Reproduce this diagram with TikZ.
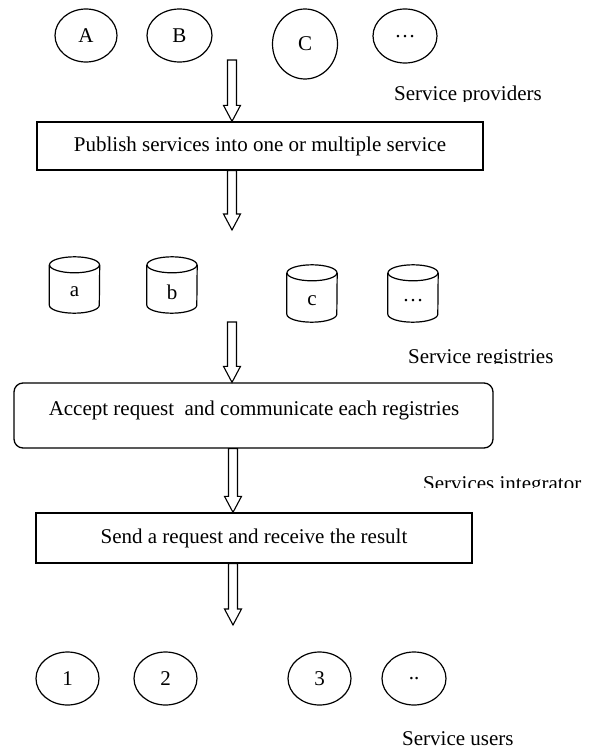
\documentclass[tikz,border=0pt]{standalone}
\usepackage{fontspec}
\setmainfont{Liberation Serif}
\usetikzlibrary{calc,shapes.geometric}
\tikzset{
  every node/.style={font=\fontsize{21}{25}\selectfont},
  circ/.style={draw, line width=1.2pt, ellipse, inner sep=0pt},
  sqbox/.style={draw, line width=1.3pt, rectangle, inner sep=0pt},
  rbox/.style={draw, line width=1.3pt, rectangle, rounded corners=9pt, inner sep=0pt},
  cylbox/.style={rectangle, inner sep=0pt},
  cylline/.style={line width=1.2pt},
  hollow/.style={draw, line width=1.1pt, fill=white},
  lbl/.style={inner sep=0pt, anchor=base west},
  txt/.style={inner sep=0pt}
}
\newcommand\hollowarrow[2]{%
  \path[hollow] let \p1=(#1), \p2=(#2) in
    (\x1-4.5pt,\y1) -- (\x1-4.5pt,\y2+16pt) -- (\x1-8.5pt,\y2+16pt) -- (\x1,\y2)
    -- (\x1+8.5pt,\y2+16pt) -- (\x1+4.5pt,\y2+16pt) -- (\x1+4.5pt,\y1) -- cycle;}
\newcommand\cylinderdraw[2]{%
  \draw[cylline] ($(#1.north)+(0,8)$) ellipse [x radius=25, y radius=8];
  \draw[cylline] ($(#1.north west)+(0,8)$) -- ($(#1.south west)+(0,-8)$)
    arc[start angle=180, end angle=0, x radius=25, y radius=8]
    -- ($(#1.north east)+(0,8)$);
  \node[txt] (#1-t) at ($(#1)+(0,7)$) {#2};}
\begin{document}
\begin{tikzpicture}[x=1pt,y=-1pt]
\useasboundingbox (0,0) rectangle (590,749);
\fill[white] (0,0) rectangle (590,749);

% service providers
\node[circ, minimum width=62pt, minimum height=53pt] (pA) at (86,35.5) {A};
\node[circ, minimum width=65pt, minimum height=53pt] (pB) at (179.5,35.5) {B};
\node[circ, minimum width=65pt, minimum height=70pt] (pC) at (305,44) {C};
\node[circ, minimum width=64pt, minimum height=54pt] (pD) at (405,36) {\raisebox{-3pt}{…}};
\begin{scope}
  \clip (380,80) rectangle (580,101.5);
  \node[lbl] (provlbl) at (394,101) {Service providers};
\end{scope}

% publish box
\node[sqbox, minimum width=446pt, minimum height=48pt] (publish) at (260,146) {Publish services into one or multiple service};

% registries
\node[cylbox, minimum width=50pt, minimum height=56pt] (ra) at (74.5,285) {};
\node[cylbox, minimum width=50pt, minimum height=56pt] (rb) at (172,285) {};
\node[cylbox, minimum width=50pt, minimum height=57pt] (rc) at (312,293.5) {};
\node[cylbox, minimum width=50pt, minimum height=57pt] (rd) at (413,293.5) {};
\cylinderdraw{ra}{a}
\cylinderdraw{rb}{b}
\cylinderdraw{rc}{c}
\cylinderdraw{rd}{…}
\begin{scope}
  \clip (395,330) rectangle (580,363.5);
  \node[lbl] (reglbl) at (408,363) {Service registries};
\end{scope}

% integrator box
\node[rbox, minimum width=479pt, minimum height=65pt] (integ) at (253.5,415.5) {};
\node[txt] (integ-t) at (254,410) {Accept request\ \ and communicate each registries};
\begin{scope}
  \clip (410,465) rectangle (590,487.5);
  \node[lbl] (intlbl) at (423,490) {Services integrator};
\end{scope}

% request box
\node[sqbox, minimum width=436pt, minimum height=50pt] (request) at (254,538) {Send a request and receive the result};

% service users
\node[circ, minimum width=63pt, minimum height=53pt] (u1) at (67.5,678.5) {1};
\node[circ, minimum width=63pt, minimum height=53pt] (u2) at (165.5,678.5) {2};
\node[circ, minimum width=63pt, minimum height=53pt] (u3) at (319.5,678.5) {3};
\node[circ, minimum width=64pt, minimum height=53pt] (u4) at (414,678.5) {\raisebox{-3pt}{..}};
\node[lbl] (userlbl) at (402,745) {Service users};

% arrows
\coordinate (s1) at (232,60);
\coordinate (s3) at (232,322);
\coordinate (e5) at (233,625);
\coordinate (e2) at (232,230);
\hollowarrow{s1}{publish.north -| s1}
\hollowarrow{publish.south -| e2}{e2}
\hollowarrow{s3}{integ.north -| s3}
\hollowarrow{integ.south -| e5}{request.north -| e5}
\hollowarrow{request.south -| e5}{e5}
\end{tikzpicture}
\end{document}
